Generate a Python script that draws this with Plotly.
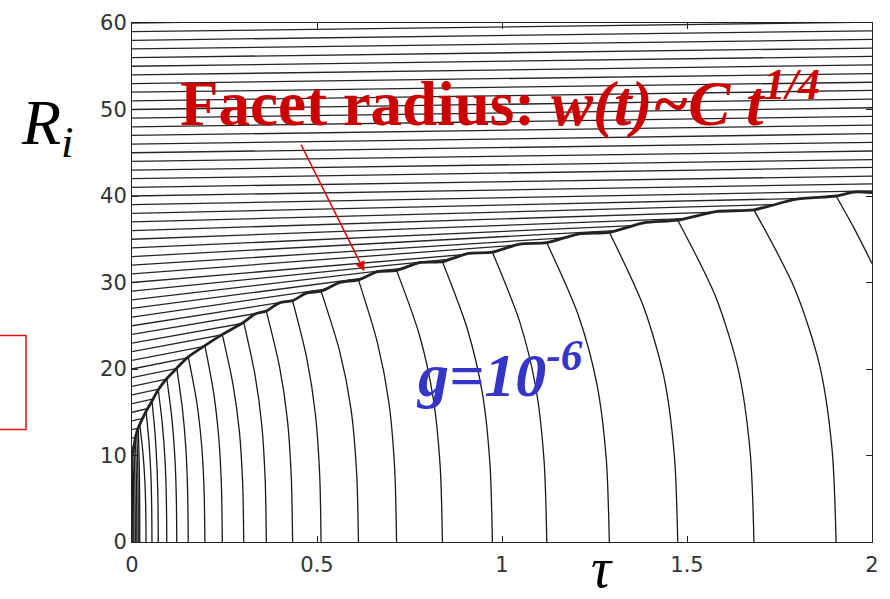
import plotly.graph_objects as go

# ---------------- data ----------------
tau_ticks = [0, 0.5, 1, 1.5, 2]
R_ticks = [0, 10, 20, 30, 40, 50, 60]

# terraces outside the facet: radius at tau=0 and at tau=2
upper_R_start = [11, 12, 13, 14, 15, 16, 17, 18, 19, 20,
                 21, 22, 23, 24, 25, 26, 27, 28, 29, 30,
                 31, 32, 33, 34, 35, 36, 37, 38, 39, 40,
                 41, 42, 43, 44, 45, 46, 47, 48, 49, 50,
                 51, 52, 53, 54, 55, 56, 57, 58, 59, 60]
upper_R_end = [31.0, 32.0, 33.0, 34.0, 35.0, 35.0, 35.4, 36.0, 36.6, 37.2,
               37.6, 38.0, 38.2, 38.4, 38.4, 38.4, 38.2, 38.0, 37.6, 37.2,
               37.4, 37.4, 37.6, 37.8, 38.2, 38.7, 39.3, 39.9, 40.6, 41.4,
               42.3, 43.3, 44.2, 45.2, 46.2, 47.2, 48.2, 49.2, 50.2, 51.2,
               52.2, 53.15, 54.15, 55.15, 56.15, 57.1, 58.1, 59.1, 60.1, 61.1]
upper_tau = [0.0, 2.0]

# facet edge (step bunch), with its scallops
edge_tau = [0, 0.002, 0.005, 0.009, 0.013, 0.017, 0.021, 0.038, 0.054, 0.071,
            0.094, 0.121, 0.152, 0.197, 0.244, 0.302, 0.3325, 0.363, 0.3985, 0.434,
            0.4725, 0.511, 0.5615, 0.612, 0.6635, 0.715, 0.777, 0.839, 0.9065, 0.974,
            1.0475, 1.121, 1.2055, 1.290, 1.3825, 1.475, 1.578, 1.681, 1.792, 1.903,
            1.95, 2.0]
edge_R = [10, 10.4, 11, 12.0, 12.7, 13.2, 13.6, 15.1, 16.3, 17.6,
          18.9, 20.1, 21.4, 22.7, 24.0, 25.4, 26.35, 26.7, 27.65, 27.9,
          28.8, 29.0, 30.0, 30.3, 31.25, 31.4, 32.3, 32.4, 33.35, 33.5,
          34.45, 34.6, 35.6, 35.8, 36.9, 37.2, 38.2, 38.4, 39.6, 40.0,
          40.45, 40.4]

# top-terrace radius after leaving the bunch until it collapses
curve_tau = [
    [0, 0.001, 0.0016, 0.0019, 0.002],
    [0.002, 0.0035, 0.0044, 0.00485, 0.005],
    [0.005, 0.007, 0.0082, 0.0088, 0.009],
    [0.009, 0.011, 0.0122, 0.0128, 0.013],
    [0.013, 0.015, 0.0162, 0.0168, 0.017],
    [0.017, 0.019, 0.0202, 0.0208, 0.021],
    [0.021, 0.0295, 0.0346, 0.0372, 0.038],
    [0.038, 0.046, 0.0508, 0.0532, 0.054],
    [0.054, 0.0625, 0.0676, 0.0702, 0.071],
    [0.071, 0.0825, 0.0894, 0.0929, 0.094],
    [0.094, 0.1075, 0.1156, 0.1197, 0.121],
    [0.121, 0.1365, 0.1458, 0.1505, 0.152],
    [0.152, 0.1745, 0.188, 0.1948, 0.197],
    [0.197, 0.2205, 0.2346, 0.2417, 0.244],
    [0.244, 0.273, 0.2904, 0.2991, 0.302],
    [0.302, 0.3325, 0.3508, 0.360, 0.363],
    [0.363, 0.3985, 0.4198, 0.4305, 0.434],
    [0.434, 0.4725, 0.4956, 0.5072, 0.511],
    [0.511, 0.5615, 0.5918, 0.6070, 0.612],
    [0.612, 0.6635, 0.6944, 0.7099, 0.715],
    [0.715, 0.777, 0.8142, 0.8328, 0.839],
    [0.839, 0.9065, 0.947, 0.9673, 0.974],
    [0.974, 1.0475, 1.0916, 1.1137, 1.121],
    [1.121, 1.2055, 1.2562, 1.2816, 1.290],
    [1.290, 1.3825, 1.438, 1.4658, 1.475],
    [1.475, 1.578, 1.6398, 1.6707, 1.681],
    [1.681, 1.792, 1.8586, 1.8919, 1.903],
    [1.903, 1.95, 2.0],
]
curve_R = [
    [10, 7.6, 5.3, 2.8, 0],
    [10.4, 7.9, 5.5, 2.9, 0],
    [11, 8.4, 5.8, 3.1, 0],
    [12, 9.1, 6.4, 3.4, 0],
    [12.7, 9.7, 6.7, 3.6, 0],
    [13.2, 10.0, 7.0, 3.7, 0],
    [13.6, 10.3, 7.2, 3.8, 0],
    [15.1, 11.5, 8.0, 4.2, 0],
    [16.3, 12.4, 8.6, 4.6, 0],
    [17.6, 13.4, 9.3, 4.9, 0],
    [18.9, 14.4, 10.0, 5.3, 0],
    [20.1, 15.3, 10.7, 5.6, 0],
    [21.4, 16.3, 11.3, 6.0, 0],
    [22.7, 17.3, 12.0, 6.4, 0],
    [24.0, 18.2, 12.7, 6.7, 0],
    [25.4, 19.3, 13.5, 7.1, 0],
    [26.7, 20.3, 14.2, 7.5, 0],
    [27.9, 21.2, 14.8, 7.8, 0],
    [29.0, 22.0, 15.4, 8.1, 0],
    [30.3, 23.0, 16.1, 8.5, 0],
    [31.4, 23.9, 16.6, 8.8, 0],
    [32.4, 24.6, 17.2, 9.1, 0],
    [33.5, 25.5, 17.8, 9.4, 0],
    [34.6, 26.3, 18.3, 9.7, 0],
    [35.8, 27.2, 19.0, 10.0, 0],
    [37.2, 28.3, 19.7, 10.4, 0],
    [38.4, 29.2, 20.4, 10.8, 0],
    [40.0, 36.4, 32.2],
]

# ---------------- figure ----------------
fig = go.Figure()

# outer terraces as one broken line
ux, uy = [], []
for r0, r1 in zip(upper_R_start, upper_R_end):
    ux += [upper_tau[0], upper_tau[1], None]
    uy += [r0, r1, None]
fig.add_trace(go.Scatter(x=ux, y=uy, mode="lines",
                         line=dict(color="#262626", width=1.3),
                         hoverinfo="skip", showlegend=False))

# facet interior (white) hides terraces already absorbed in the bunch
fig.add_trace(go.Scatter(x=edge_tau, y=edge_R, mode="lines", fill="tozeroy",
                         fillcolor="white",
                         line=dict(color="white", width=0, shape="spline", smoothing=0.7),
                         hoverinfo="skip", showlegend=False))

for tx, ry in zip(curve_tau, curve_R):
    fig.add_trace(go.Scatter(x=tx, y=ry, mode="lines",
                             line=dict(color="#1a1a1a", width=1.3,
                                       shape="spline", smoothing=0.8),
                             hoverinfo="skip", showlegend=False))

fig.add_trace(go.Scatter(x=edge_tau, y=edge_R, mode="lines",
                         line=dict(color="#222222", width=2.8, shape="spline", smoothing=0.7),
                         hoverinfo="skip", showlegend=False))

axis_common = dict(showline=True, linecolor="#222222", linewidth=1, mirror="ticks",
                   ticks="inside", ticklen=6, tickcolor="#222222", showgrid=False,
                   zeroline=False,
                   tickfont=dict(family="DejaVu Sans", size=21, color="#333333"))

fig.update_xaxes(range=[0, 2], tickvals=tau_ticks, ticklabelstandoff=4,
                 ticktext=[f"{v:g}" for v in tau_ticks], **axis_common)
fig.update_yaxes(range=[0, 60], tickvals=R_ticks,
                 ticktext=[str(v) for v in R_ticks], **axis_common)

red = "#cc0000"
fig.add_annotation(xref="paper", yref="paper", x=0.0625, y=0.853,
                   xanchor="left", yanchor="middle", showarrow=False,
                   text="<b>Facet radius: <i>w(t)~C t<sup>1/4</sup></i></b>",
                   font=dict(family="Liberation Serif", size=63, color=red))
fig.add_annotation(xref="paper", yref="paper", x=0.3815, y=0.332,
                   xanchor="left", yanchor="middle", showarrow=False,
                   text="<b><i>g=10<sup>-6</sup></i></b>",
                   font=dict(family="Liberation Serif", size=62, color="#3535c8"))
fig.add_annotation(xref="paper", yref="paper", x=-0.153, y=0.80,
                   xanchor="left", yanchor="middle", showarrow=False,
                   text="<i>R<sub>i</sub></i>",
                   font=dict(family="Liberation Serif", size=64, color="black"))
fig.add_annotation(xref="paper", yref="paper", x=0.617, y=-0.05,
                   xanchor="left", yanchor="middle", showarrow=False,
                   text="<i>τ</i>",
                   font=dict(family="Liberation Serif", size=56, color="black"))
fig.add_annotation(x=0.628, y=31.3, xref="x", yref="y", ax=-64, ay=-128,
                   text="", showarrow=True, arrowhead=2, arrowsize=1.3,
                   arrowwidth=1.5, arrowcolor="#e00000")

fig.add_shape(type="rect", xref="paper", yref="paper",
              x0=-0.19, x1=-0.1432, y0=0.217, y1=0.398,
              line=dict(color="#ee1111", width=1.5))

fig.update_layout(width=890, height=599,
                  margin=dict(l=132, r=11, t=17, b=57),
                  paper_bgcolor="white", plot_bgcolor="white")

fig.write_html("out.html")
